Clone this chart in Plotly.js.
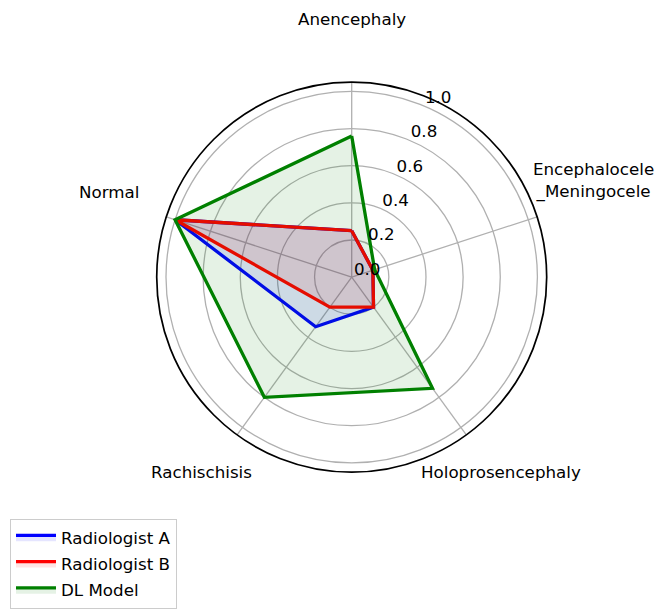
<!DOCTYPE html>
<html>
<head>
<meta charset="utf-8">
<script src="https://cdn.plot.ly/plotly-3.0.1.min.js"></script>
<style>html,body{margin:0;padding:0;background:#fff;}#chart{width:657px;height:609px;}</style>
</head>
<body>
<div id="chart"></div>
<script>
// ---- data ----
var categories = ['Anencephaly', 'Encephalocele_Meningocele', 'Holoprosencephaly', 'Rachischisis', 'Normal'];
var categoryLabels = ['Anencephaly', 'Encephalocele<br>_Meningocele', 'Holoprosencephaly', 'Rachischisis', 'Normal'];
var seriesNames = ['Radiologist A', 'Radiologist B', 'DL Model'];
var radiologistA = [0.25, 0.12, 0.20, 0.33, 1.00];
var radiologistB = [0.25, 0.12, 0.20, 0.20, 1.00];
var dlModel = [0.76, 0.13, 0.74, 0.80, 1.00];
var radialTicks = [0.0, 0.2, 0.4, 0.6, 0.8, 1.0];
var radialTickText = ['0.0', '0.2', '0.4', '0.6', '0.8', '1.0'];

// ---- styling ----
var lineColors = ['#0000ff', '#ff0000', '#008000'];
var fillColors = ['rgba(0,0,255,0.1)', 'rgba(255,0,0,0.1)', 'rgba(0,128,0,0.1)'];
var FS = 16.7;
var FONT = 'DejaVu Sans, Liberation Sans, sans-serif';
var W = 657, H = 609;

function closed(arr) { return arr.concat([arr[0]]); }

var allSeries = [radiologistA, radiologistB, dlModel];
var traces = allSeries.map(function (vals, i) {
  return {
    type: 'scatterpolar',
    subplot: 'polar',
    r: closed(vals),
    theta: closed(categories),
    mode: 'lines',
    name: seriesNames[i],
    legendgroup: 'g' + i,
    line: { color: lineColors[i], width: 3.3 },
    fill: 'toself',
    fillcolor: fillColors[i],
    hoverinfo: 'skip'
  };
});
// empty trace so the overlay polar (radial tick labels only) is drawn
traces.push({
  type: 'scatterpolar', subplot: 'polar2', r: [], theta: [],
  mode: 'lines', showlegend: false, hoverinfo: 'skip'
});

// category label positions (pixels from top-left)
var labelPos = [
  { x: 351.7, y: 19.5 },
  { x: 593.5, y: 184 },
  { x: 500.5, y: 479.5 },
  { x: 201.7, y: 479.5 },
  { x: 109, y: 194.8 }
];
var annotations = categoryLabels.map(function (t, i) {
  return {
    xref: 'paper', yref: 'paper',
    x: labelPos[i].x / W, y: 1 - labelPos[i].y / H,
    xanchor: 'center', yanchor: 'middle',
    text: t, showarrow: false, align: 'center',
    font: { family: FONT, size: FS, color: '#000' }
  };
});

// polar geometry (pixels)
var box = { l: 153.7, r: 549.7, t: 83.5, b: 480 };
var lblShift = { dx: -6, dy: -14.5 };

function dom(dx, dy) {
  return {
    x: [(box.l + dx) / W, (box.r + dx) / W],
    y: [1 - (box.b + dy) / H, 1 - (box.t + dy) / H]
  };
}

var layout = {
  width: W, height: H,
  margin: { l: 0, r: 0, t: 0, b: 0, pad: 0 },
  paper_bgcolor: '#fff',
  font: { family: FONT, size: FS, color: '#000' },
  showlegend: true,
  legend: {
    x: 10 / W, y: 1 - 528 / H, xanchor: 'left', yanchor: 'top',
    bgcolor: 'rgba(255,255,255,0.8)', bordercolor: '#cccccc', borderwidth: 1,
    itemwidth: 40, tracegroupgap: 1.5,
    font: { family: FONT, size: FS, color: '#000' }
  },
  polar: {
    domain: dom(0, 0),
    bgcolor: '#fff',
    radialaxis: {
      range: [0, 1.05],
      tickvals: radialTicks,
      showline: false, ticks: '', showticklabels: false,
      gridcolor: '#b0b0b0', gridwidth: 1.3,
      angle: 67.5
    },
    angularaxis: {
      type: 'category', categoryorder: 'array', categoryarray: categories,
      direction: 'clockwise', rotation: 90,
      showticklabels: false, ticks: '',
      showline: true, linecolor: '#000', linewidth: 1.7,
      gridcolor: '#b0b0b0', gridwidth: 1.3
    }
  },
  polar2: {
    domain: dom(lblShift.dx, lblShift.dy),
    bgcolor: 'rgba(0,0,0,0)',
    radialaxis: {
      range: [0, 1.05],
      tickvals: radialTicks, ticktext: radialTickText,
      showline: false, showgrid: false, ticks: '',
      angle: 67.5, tickangle: 67.5, side: 'clockwise',
      tickfont: { family: FONT, size: FS, color: '#000' }
    },
    angularaxis: {
      type: 'category', categoryorder: 'array', categoryarray: categories,
      direction: 'clockwise', rotation: 90,
      showticklabels: false, ticks: '', showline: false, showgrid: false
    }
  },
  annotations: annotations
};

Plotly.newPlot('chart', traces, layout, { displayModeBar: false, staticPlot: true });
</script>
</body>
</html>
